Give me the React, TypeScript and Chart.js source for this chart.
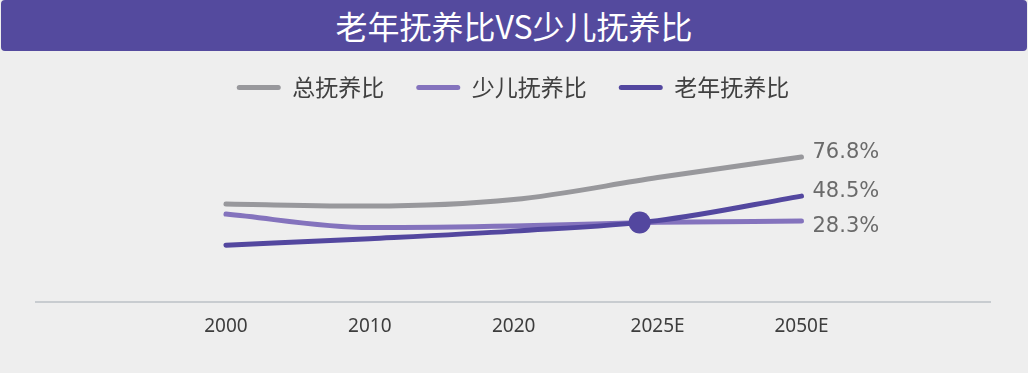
import React, { useEffect, useRef } from 'react';
import { Chart, registerables } from 'chart.js';

Chart.register(...registerables);

const titleText = '老年抚养比VS少儿抚养比';
const years = ['2000', '2010', '2020', '2025E', '2050E'];
const seriesNames = ['总抚养比', '少儿抚养比', '老年抚养比'];
// values (height above the axis, picture units)
const totalRatio = [98, 96, 102.5, 124.5, 145];
const childRatio = [88, 74.5, 76, 79.8, 81];
const elderRatio = [57, 63.5, 71, 81.5, 106];
const endLabels = ['76.8%', '28.3%', '48.5%'];
const crossPoint = [{ x: 2.875, y: 79.6 }];
const seriesColors = ['#98989c', '#8473bd', '#53479f'];

const endLabelPlugin = {
  id: 'endLabels',
  afterDatasetsDraw(chart: any) {
    const ctx = chart.ctx;
    chart.data.datasets.forEach((ds: any, i: number) => {
      if (!ds.endLabel) return;
      const meta = chart.getDatasetMeta(i);
      const pt = meta.data[meta.data.length - 1];
      if (!pt) return;
      ctx.save();
      ctx.font = '21px "DejaVu Sans"';
      ctx.fillStyle = '#6a6a6a';
      ctx.textBaseline = 'middle';
      ctx.textAlign = 'left';
      ctx.fillText(ds.endLabel, pt.x + 11, pt.y + ds.endLabelDy);
      ctx.restore();
    });
  },
};

const toPoints = (vals: number[]) => vals.map((v, i) => ({ x: i, y: v }));

export default function App() {
  const canvasRef = useRef<HTMLCanvasElement | null>(null);

  useEffect(() => {
    if (!canvasRef.current) return;
    const lineBase = {
      type: 'line' as const,
      borderWidth: 5,
      borderCapStyle: 'round' as const,
      borderJoinStyle: 'round' as const,
      pointRadius: 0,
      pointHoverRadius: 0,
      cubicInterpolationMode: 'monotone' as const,
      fill: false,
    };
    const chart = new Chart(canvasRef.current, {
      type: 'line',
      data: {
        datasets: [
          {
            label: 'cross',
            data: crossPoint,
            showLine: false,
            pointRadius: 11,
            pointHoverRadius: 11,
            pointBackgroundColor: seriesColors[2],
            pointBorderWidth: 0,
            borderColor: seriesColors[2],
            backgroundColor: seriesColors[2],
            order: 0,
          } as any,
          {
            ...lineBase,
            label: seriesNames[0],
            data: toPoints(totalRatio),
            borderColor: seriesColors[0],
            backgroundColor: seriesColors[0],
            endLabel: endLabels[0],
            endLabelDy: -5,
            order: 3,
          } as any,
          {
            ...lineBase,
            label: seriesNames[1],
            data: toPoints(childRatio),
            borderColor: seriesColors[1],
            backgroundColor: seriesColors[1],
            endLabel: endLabels[1],
            endLabelDy: 5,
            order: 2,
          } as any,
          {
            ...lineBase,
            label: seriesNames[2],
            data: toPoints(elderRatio),
            borderColor: seriesColors[2],
            backgroundColor: seriesColors[2],
            endLabel: endLabels[2],
            endLabelDy: -5,
            order: 1,
          } as any,
        ],
      },
      options: {
        animation: false,
        responsive: false,
        events: [],
        layout: { padding: { top: 4, left: 36, right: 38, bottom: 22 } },
        plugins: {
          tooltip: { enabled: false },
          title: { display: false },
          legend: {
            display: true,
            position: 'top',
            onClick: () => {},
            labels: {
              boxWidth: 44,
              boxHeight: 5,
              padding: 32,
              color: '#404040',
              font: { family: '"Noto Sans CJK SC"', size: 23 },
              generateLabels: () =>
                seriesNames.map((name, i) => ({
                  text: name,
                  fillStyle: seriesColors[i],
                  strokeStyle: seriesColors[i],
                  fontColor: '#404040',
                  lineWidth: 0,
                  borderRadius: 2.5,
                  hidden: false,
                  datasetIndex: i + 1,
                })) as any,
            },
          },
        },
        scales: {
          x: {
            type: 'linear',
            min: -1.32,
            max: 5.31,
            afterBuildTicks: (axis: any) => {
              axis.ticks = years.map((_, i) => ({ value: i }));
            },
            ticks: {
              autoSkip: false,
              maxRotation: 0,
              padding: 13,
              color: '#3d3d3d',
              font: { family: '"Noto Sans"', size: 19 },
              callback: (v: any) => years[Number(v)] ?? '',
            },
            grid: { display: false, drawTicks: false },
            border: { display: true, color: '#c8ccd0', width: 2 },
          },
          y: {
            type: 'linear',
            display: false,
            min: 0,
            max: 193,
          },
        },
      },
      plugins: [endLabelPlugin],
    });
    return () => chart.destroy();
  }, []);

  return (
    <div
      style={{
        position: 'absolute',
        left: 0,
        top: 0,
        width: 1028,
        height: 373,
        background: '#eeeeee',
        overflow: 'hidden',
      }}
    >
      <canvas
        ref={canvasRef}
        width={1028}
        height={333}
        style={{ position: 'absolute', left: 0, top: 40, width: 1028, height: 333, zIndex: 1 }}
      />
      <div
        style={{
          position: 'absolute',
          left: 1,
          top: 0,
          width: 1026,
          height: 51,
          background: '#544a9e',
          borderRadius: 4,
          color: '#ffffff',
          fontFamily: '"Noto Sans CJK SC"',
          fontSize: 32,
          lineHeight: '51px',
          textAlign: 'center',
          zIndex: 2,
        }}
      >
        {titleText}
      </div>
    </div>
  );
}
